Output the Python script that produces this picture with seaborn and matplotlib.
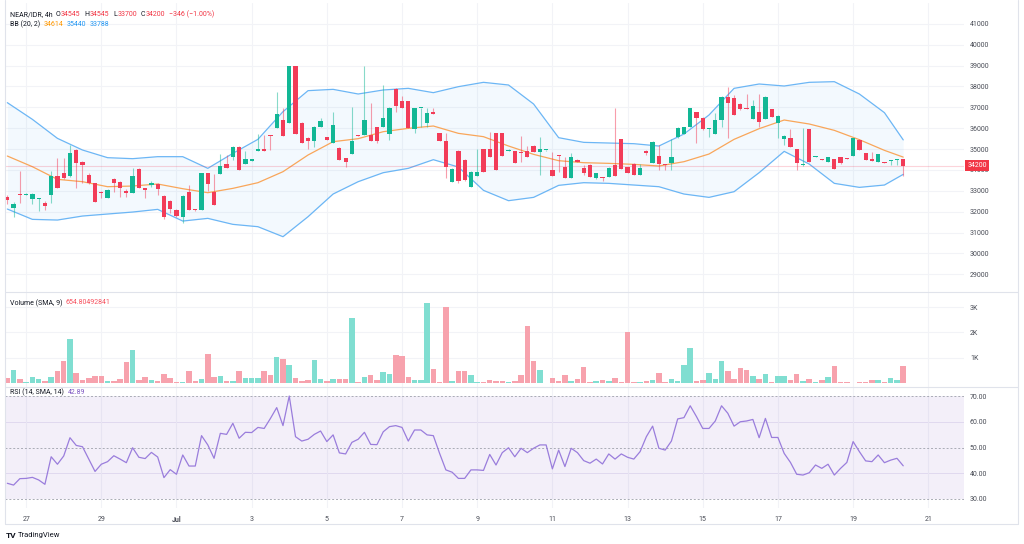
import matplotlib
matplotlib.use("Agg")
import matplotlib.pyplot as plt
from matplotlib.lines import Line2D
import numpy as np
import pandas as pd
import seaborn as sns

# NEAR/IDR 4h candles (144 bars)
opens = [32720, 32180, 32830, 32800, 32610, 32590, 32430, 32780, 33720, 33870,
         33710, 34950, 34360, 33760, 33360, 32940, 32650, 33550, 33420, 33010,
         32880, 34040, 33130, 33260, 33330, 32750, 32500, 32060, 31760, 32960,
         32100, 32060, 33840, 32930, 33820, 34270, 34640, 35080, 34270, 34430,
         34920, 34990, 35670, 35990, 36390, 36260, 39000, 36260, 35530, 35390,
         36070, 35560, 35300, 35030, 34560, 34760, 35670, 35670, 35670, 36070,
         36070, 35720, 37880, 37300, 37300, 35940, 36950, 36230, 36760, 35750,
         35400, 33440, 34910, 34480, 33200, 33710, 34990, 34990, 35790, 35790,
         34920, 34920, 34860, 34920, 35160, 34860, 34940, 34010, 34700, 34120,
         33600, 34480, 34110, 34220, 33600, 33650, 33640, 34240, 35500, 34120,
         34280, 33760, 34920, 34350, 34670, 34270, 34350, 35560, 35720, 36040,
         36760, 36500, 35940, 35720, 36380, 37510, 37430, 37140, 36960, 36460,
         36790, 36420, 36900, 36230, 35500, 35510, 34990, 34220, 35940, 34640,
         34490, 34360, 34510, 34600, 34560, 34680, 35430, 34790, 34510, 34360,
         34360, 34410, 34460, 34545]
highs = [32800, 32480, 33930, 32880, 32880, 32660, 32500, 33950, 34560, 34590,
         35190, 34990, 34440, 33870, 33390, 32990, 33070, 33600, 33470, 33070,
         34080, 34110, 33150, 33490, 33360, 32780, 32560, 32110, 32800, 33260,
         32110, 33870, 33870, 33790, 34750, 34710, 35150, 35150, 34910, 34540,
         35720, 35670, 35680, 37750, 36950, 39000, 39000, 36310, 35590, 36100,
         36470, 35590, 36760, 35080, 34590, 37000, 35680, 39000, 37210, 36070,
         38070, 37030, 37910, 37540, 37300, 36980, 36990, 36980, 36980, 35790,
         35790, 34080, 34950, 34510, 33960, 34990, 34990, 35830, 35790, 35790,
         34990, 34920, 35620, 35150, 35190, 35590, 34970, 34870, 34720, 34600,
         34790, 34510, 34240, 34280, 33870, 33680, 34120, 36980, 35500, 34160,
         34320, 34280, 34950, 35390, 35190, 34280, 35480, 36070, 36070, 36980,
         36790, 36520, 36020, 36710, 37540, 37990, 37590, 37190, 37620, 37350,
         37620, 37540, 36930, 36610, 35670, 35940, 35020, 35990, 35940, 34690,
         34510, 34640, 34540, 34640, 34570, 35550, 35460, 34810, 34870, 34750,
         34380, 34480, 34540, 34545]
lows = [32370, 31760, 32400, 32780, 32370, 32050, 32080, 32400, 33150, 33570,
        33680, 33120, 33360, 33330, 32480, 32640, 32650, 32960, 32720, 32690,
        32880, 33120, 32640, 33200, 32800, 31630, 31920, 31760, 31440, 32060,
        32050, 32060, 33010, 32320, 33790, 34110, 34480, 34000, 34270, 34430,
        34920, 34920, 34950, 35990, 35620, 36260, 35700, 35270, 34990, 35080,
        36070, 35420, 35300, 34480, 34120, 34760, 35620, 35670, 35370, 35300,
        36070, 35430, 36760, 36980, 36020, 35780, 36070, 36070, 36660, 35400,
        33600, 33440, 33360, 33490, 33200, 33710, 33900, 34640, 34000, 34670,
        34920, 34350, 34400, 34600, 34860, 33760, 34930, 33710, 33900, 33600,
        33600, 34380, 33760, 33680, 33550, 33490, 33640, 33710, 34030, 33840,
        33760, 33760, 34710, 34350, 34000, 34000, 34000, 35510, 35720, 36040,
        35270, 35910, 35590, 35720, 36070, 35510, 36630, 36870, 36920, 36460,
        36070, 36420, 36520, 35510, 35190, 35080, 34000, 34190, 34360, 34630,
        34460, 34360, 34030, 34280, 34520, 34680, 34950, 34480, 34440, 34360,
        34330, 34240, 34240, 33700]
closes = [32560, 32370, 32800, 32830, 32830, 32620, 32290, 33720, 33150, 33600,
          34790, 34320, 34250, 33390, 32480, 32880, 33040, 33390, 33130, 32910,
          33720, 33150, 33040, 33360, 33100, 31760, 32140, 31780, 32770, 32060,
          32060, 33840, 33310, 32320, 34190, 34110, 35080, 34000, 34540, 34540,
          34990, 34920, 35640, 36660, 35620, 39000, 35700, 35270, 35400, 36060,
          36330, 35420, 36140, 34480, 34380, 35400, 35630, 36380, 35370, 35370,
          36470, 36980, 37080, 36980, 36020, 36980, 36980, 36710, 36660, 35400,
          34160, 34030, 33490, 33520, 33920, 33920, 33900, 34640, 34000, 34670,
          34950, 34350, 34830, 34600, 34860, 34990, 34960, 33710, 34670, 33600,
          34640, 34380, 33840, 33680, 33840, 33600, 34080, 33710, 34030, 33840,
          33760, 34080, 34790, 35320, 34280, 34220, 34640, 35990, 36040, 36950,
          36500, 35940, 35990, 36380, 37510, 37190, 36630, 36900, 36940, 37060,
          36280, 37510, 36520, 36580, 35640, 35110, 34320, 34250, 34360, 34680,
          34460, 34640, 34030, 34320, 34520, 35510, 34950, 34480, 34440, 34750,
          34330, 34480, 34520, 34200]
volumes = [211, 514, 145, 40, 224, 145, 92, 250, 474, 870,
           1727, 382, 119, 211, 277, 290, 66, 92, 145, 830,
           1292, 119, 237, 132, 79, 369, 198, 26, 53, 461,
           92, 158, 1160, 237, 277, 79, 79, 461, 198, 198,
           211, 488, 303, 1015, 936, 725, 185, 92, 119, 909,
           145, 92, 171, 145, 158, 2583, 40, 250, 316, 119,
           448, 343, 1094, 1081, 237, 119, 105, 3150, 554, 53,
           3018, 79, 474, 474, 330, 53, 53, 132, 79, 79,
           26, 92, 316, 2254, 870, 527, 13, 185, 92, 316,
           79, 171, 619, 53, 79, 105, 92, 198, 40, 2030,
           53, 26, 79, 105, 395, 53, 158, 66, 699, 1371,
           79, 119, 409, 158, 857, 474, 158, 580, 501, 264,
           145, 343, 53, 290, 277, 105, 356, 66, 145, 26,
           119, 250, 659, 26, 26, 13, 53, 40, 132, 105,
           40, 185, 119, 659]
rsi = [36.1, 35.4, 37.9, 38.0, 38.4, 37.4, 35.7, 46.4, 43.5, 46.7,
       53.8, 50.8, 50.3, 45.5, 40.7, 43.5, 44.5, 46.8, 45.5, 44.1,
       49.9, 46.2, 45.7, 48.1, 46.3, 38.3, 41.4, 39.6, 47.1, 42.8,
       42.8, 54.6, 51.0, 45.8, 55.5, 55.1, 59.4, 53.6, 55.9, 55.8,
       57.8, 57.4, 61.3, 65.5, 58.5, 70.0, 54.2, 52.5, 53.2, 55.1,
       56.4, 52.3, 54.9, 47.9, 47.5, 52.0, 53.2, 55.9, 51.2, 51.1,
       56.1, 58.1, 58.5, 57.8, 52.5, 56.8, 56.8, 54.9, 54.6, 47.7,
       41.3, 40.4, 38.0, 38.0, 41.3, 41.3, 41.1, 47.3, 43.2, 48.0,
       49.9, 46.4, 49.7, 48.0, 49.7, 51.0, 51.0, 41.7, 49.0, 42.6,
       49.7, 48.0, 44.9, 43.9, 45.5, 43.6, 47.5, 45.5, 47.5, 46.2,
       45.5, 48.4, 54.2, 58.3, 49.7, 49.0, 52.5, 61.1, 61.6, 66.2,
       62.0, 57.4, 57.4, 60.3, 66.2, 63.3, 58.3, 60.0, 60.3, 60.9,
       53.8, 61.3, 53.9, 53.9, 47.7, 44.2, 39.6, 39.3, 40.2, 43.2,
       41.9, 43.5, 39.3, 41.9, 44.2, 52.3, 48.4, 44.8, 44.5, 47.1,
       44.1, 45.1, 45.8, 42.89]

# Bollinger bands (20, 2), read every 4th bar
bb_bar = [0, 4, 8, 12, 16, 20, 24, 28, 32, 36, 40, 44, 48, 52, 56, 60, 64, 68,
          72, 76, 80, 84, 88, 92, 96, 100, 104, 108, 112, 116, 120, 124, 128,
          132, 136, 140, 143]
bb_upper = [37222, 36423, 35512, 34954, 34587, 34539, 34635, 34635, 34076, 34794,
            35465, 36790, 37797, 37860, 37637, 37829, 37908, 37701, 37988, 38196,
            38068, 37158, 35545, 35321, 35289, 35257, 35145, 35720, 36631, 37908,
            38116, 38020, 38196, 38228, 37637, 36743, 35440]
bb_basis = [34666, 34155, 33549, 33437, 33197, 33229, 33325, 33101, 32910, 33117,
            33389, 33916, 34715, 35353, 35497, 35832, 35992, 36104, 35752, 35593,
            35146, 34746, 34443, 34347, 34315, 34267, 34188, 34395, 34762, 35465,
            35976, 36391, 36200, 35896, 35449, 34938, 34614]
bb_lower = [32127, 31632, 31600, 31792, 31888, 31983, 32111, 31552, 31680, 31393,
            31281, 30802, 31760, 32846, 33437, 33868, 34076, 34491, 34139, 33022,
            32527, 32686, 33261, 33389, 33357, 33277, 33197, 32846, 32686, 32958,
            33868, 34890, 34280, 33357, 33165, 33277, 33788]

first_bar = pd.Timestamp("2025-06-26 12:00")
day_ticks = pd.date_range("2025-06-27", "2025-07-21", freq="2D")
day_labels = ["27", "29", "Jul", "3", "5", "7", "9", "11", "13", "15", "17", "19", "21"]
price_ticks = list(range(29000, 41001, 1000))
vol_ticks = [1000, 2000, 3000]
vol_labels = ["1K", "2K", "3K"]
rsi_ticks = [30, 40, 50, 60, 70]

df = pd.DataFrame({"open": opens, "high": highs, "low": lows, "close": closes,
                   "volume": volumes, "rsi": rsi})
df["bar"] = np.arange(len(df))
df["up"] = df["close"] >= df["open"]
tick_pos = (day_ticks - first_bar) / pd.Timedelta("4h")

# colours
UP, DOWN = "#12b795", "#f23c58"
VOL_UP, VOL_DOWN = "#80ded1", "#f7a2ad"
DARK, AXIS = "#131722", "#4a4d57"
GRID, FRAME = "#f2f3f7", "#e0e3eb"
ORANGE, BLUE, PURPLE = "#ff9800", "#2196f3", "#7e57c2"

sns.set_theme(style="white")
plt.rcParams["font.family"] = ["Roboto", "DejaVu Sans"]

W, H = 1024, 544
fig = plt.figure(figsize=(W / 100, H / 100), dpi=100)


def pane(top, bottom):
    return fig.add_axes([5 / W, 1 - bottom / H, (964 - 5) / W, (bottom - top) / H])


ax_p = pane(3, 292)
ax_v = pane(292, 387)
ax_r = pane(387, 508)

# price pane: bands + candles
ax_p.fill_between(bb_bar, bb_lower, bb_upper, color=BLUE, alpha=0.05, lw=0)
sns.lineplot(x=bb_bar, y=bb_upper, ax=ax_p, color="#6cb6f5", lw=0.9)
sns.lineplot(x=bb_bar, y=bb_lower, ax=ax_p, color="#6cb6f5", lw=0.9)
sns.lineplot(x=bb_bar, y=bb_basis, ax=ax_p, color="#f9a65a", lw=0.9)

cols = np.where(df["up"], UP, DOWN)
ax_p.vlines(df["bar"], df["low"], df["high"], colors=cols, lw=0.8, alpha=0.5, zorder=3)
body_low = np.minimum(df["open"], df["close"])
body_h = np.maximum((df["close"] - df["open"]).abs(), 45)
ax_p.bar(df["bar"], body_h, bottom=body_low, width=0.68, color=cols, lw=0, zorder=4)
ax_p.axhline(closes[-1], color=DOWN, alpha=0.22, lw=0.8, zorder=2)
ax_p.set_ylim(28153, 41996)
ax_p.set_yticks(price_ticks)
ax_p.set_yticklabels([str(t) for t in price_ticks])
ax_p.text(1.0035, closes[-1], str(closes[-1]), transform=ax_p.get_yaxis_transform(),
          ha="left", va="center", fontsize=5, color="white", zorder=10, clip_on=False,
          bbox=dict(boxstyle="square,pad=0.3", fc="#f23645", ec="none"))

# volume pane
vcols = np.where(df["up"], VOL_UP, VOL_DOWN)
ax_v.bar(df["bar"], df["volume"], width=0.88, color=vcols, lw=0)
ax_v.set_ylim(-158, 3597)
ax_v.set_yticks(vol_ticks)
ax_v.set_yticklabels(vol_labels)

# RSI pane
ax_r.axhspan(30, 70, color=PURPLE, alpha=0.09, lw=0)
for lvl in (30, 50, 70):
    ax_r.axhline(lvl, color="#a9abb5", lw=0.7, ls=(0, (2, 2)))
sns.lineplot(x=df["bar"], y=df["rsi"], ax=ax_r, color="#9a7ddc", lw=0.9)
ax_r.set_ylim(26.5, 73.5)
ax_r.set_yticks(rsi_ticks)
ax_r.set_yticklabels([f"{t:.2f}" for t in rsi_ticks])

for ax in (ax_p, ax_v, ax_r):
    for s in ax.spines.values():
        s.set_visible(False)
    ax.set_xlim(-0.37, 152.7)
    ax.set_xticks(tick_pos)
    ax.grid(True, color=GRID, lw=0.8)
    ax.set_axisbelow(True)
    ax.yaxis.tick_right()
    ax.tick_params(axis="y", length=0, pad=4.3, labelsize=5, labelcolor=AXIS)
    ax.tick_params(axis="x", length=0, labelbottom=False)
    ax.set_xlabel("")
    ax.set_ylabel("")
ax_r.yaxis.grid(False)
for lvl in (40, 60):
    ax_r.axhline(lvl, color="#e6e2f3", lw=0.6, zorder=0)

ax_r.tick_params(axis="x", labelbottom=True, pad=5.5, labelsize=5, labelcolor=AXIS)
ax_r.set_xticklabels(day_labels)
ax_r.get_xticklabels()[2].set_fontweight("bold")

# frame and pane separators
for xs, ys in [([5, 5], [0, 524]), ([1018, 1018], [0, 524]), ([5, 1018], [524, 524]),
               ([5, 1018], [292, 292]), ([5, 1018], [387, 387])]:
    fig.add_artist(Line2D([x / W for x in xs], [1 - y / H for y in ys],
                          transform=fig.transFigure, color=FRAME, lw=0.8))

# legends
renderer = fig.canvas.get_renderer()


def legend_row(y, parts):
    x = 10
    for text, color, gap in parts:
        t = fig.text(x / W, 1 - y / H, text, color=color, fontsize=5, ha="left", va="center")
        x += t.get_window_extent(renderer).width + gap


legend_row(14.5, [("NEAR/IDR, 4h", DARK, 3), ("O", DARK, 0.4), ("34545", "#f23645", 4),
                  ("H", DARK, 0.4), ("34545", "#f23645", 4), ("L", DARK, 0.4),
                  ("33700", "#f23645", 4), ("C", DARK, 0.4), ("34200", "#f23645", 3.5),
                  ("\u2212346 (\u22121.00%)", "#f23645", 0)])
legend_row(24.5, [("BB (20, 2)", DARK, 3.5), ("34614", ORANGE, 3.5),
                  ("35440", BLUE, 3.5), ("33788", BLUE, 0)])
legend_row(303, [("Volume (SMA, 9)", DARK, 3.5), ("654.80492841", "#f7525f", 0)])
legend_row(392, [("RSI (14, SMA, 14)", DARK, 3.5), ("42.89", PURPLE, 0)])

fig.text(6 / W, 1 - 535 / H, "TV", fontsize=6, fontweight="bold", color=DARK, va="center")
fig.text(18 / W, 1 - 535 / H, "TradingView", fontsize=5.5, color=DARK, va="center")

fig.savefig("out.png", dpi=100)
plt.close(fig)
